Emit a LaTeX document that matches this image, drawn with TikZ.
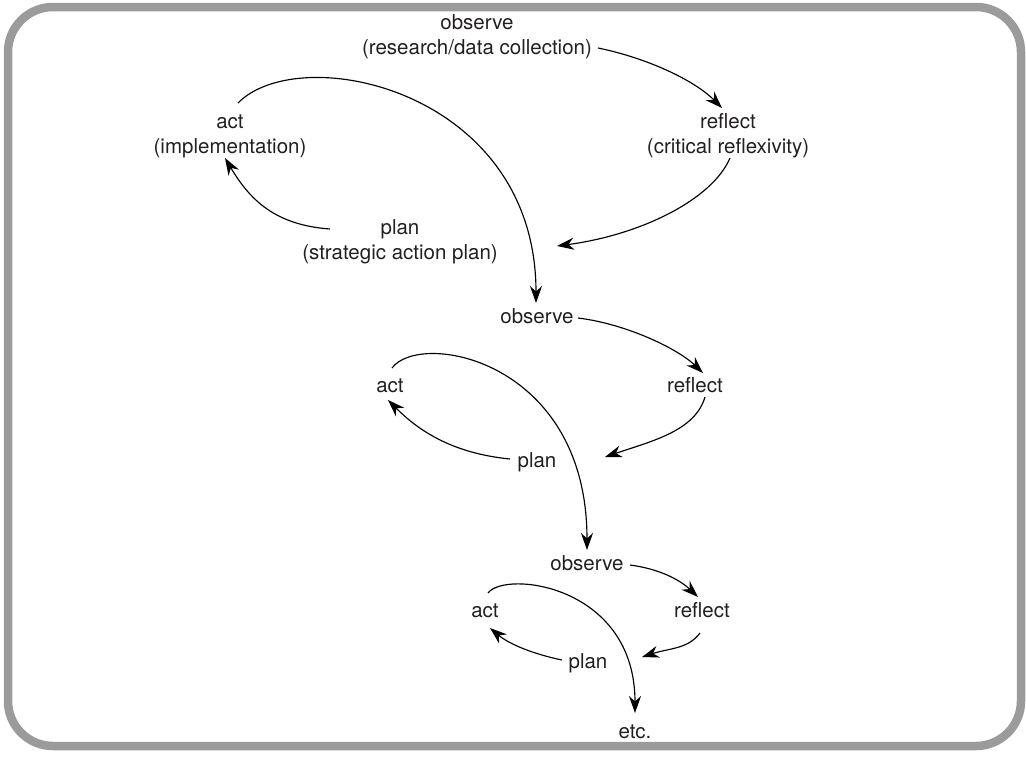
\documentclass[tikz,border=0pt]{standalone}
\usepackage{fontspec}
\setmainfont{TeX Gyre Heros}
\usetikzlibrary{arrows.meta,calc}
\definecolor{txt}{HTML}{231F20}
\definecolor{frame}{HTML}{9B9B9B}
\tikzset{
  lbl/.style={anchor=base, inner sep=2pt, text=txt, align=center,
    font=\fontsize{20.5}{24.7}\selectfont},
  cyc/.style={line width=1.15pt, draw=black,
    -{Stealth[length=17pt,width=12pt,inset=5.5pt]}},
}
\begin{document}
\begin{tikzpicture}[x=1pt,y=-1pt]
\useasboundingbox (0,0) rectangle (1026,758);
\draw[frame, line width=8.5pt, rounded corners=45pt] (8,7) rectangle (1021,746);

% cycle 1 (base = baseline of the last line)
\node[lbl] (obs1) at (477,54) {observe\\(research/data collection)};
\node[lbl] (act1) at (230,153) {act\\(implementation)};
\node[lbl] (ref1) at (728,153) {reflect\\(critical reflexivity)};
\node[lbl] (plan1) at (400,259) {plan\\(strategic action plan)};
\coordinate (r1end) at (557,246);

% cycle 2
\node[lbl] (obs2) at (537,323) {observe};
\node[lbl] (act2) at (390,392) {act};
\node[lbl] (ref2) at (695,392) {reflect};
\node[lbl] (plan2) at (537,467) {plan};
\coordinate (r2end) at (605,457);

% cycle 3
\node[lbl] (obs3) at (587,570) {observe};
\node[lbl] (act3) at (485,617) {act};
\node[lbl] (ref3) at (702,617) {reflect};
\node[lbl] (plan3) at (588,668) {plan};
\node[lbl] (etc) at (635,738) {etc.};
\coordinate (r3end) at (642,657);

% connectors cycle 1
\draw[cyc] ($(obs1.base)+(121,-6)$) .. controls (647,58) and (694,80) .. ($(ref1.base)+(-6,-45)$);
\draw[cyc] ($(ref1.base)+(2,5)$) .. controls (712,200) and (640,235) .. (r1end);
\draw[cyc] ($(act1.base)+(8,-50)$) .. controls (300,40) and (536,90) .. ($(obs2.base)+(-1,-20)$);
\draw[cyc] ($(plan1.base)+(-70,-30)$) .. controls (275,225) and (250,200) .. ($(act1.base)+(-5,5)$);

% connectors cycle 2
\draw[cyc] ($(obs2.base)+(41,-5)$) .. controls (627,324) and (678,349) .. ($(ref2.base)+(8,-19)$);
\draw[cyc] ($(ref2.base)+(10,5)$) .. controls (695,431) and (652,441) .. (r2end);
\draw[cyc] ($(act2.base)+(2,-24)$) .. controls (420,330) and (587,360) .. ($(obs3.base)+(0,-20)$);
\draw[cyc] ($(plan2.base)+(-27,-8)$) .. controls (449,453) and (416,428) .. ($(act2.base)+(-2,8)$);

% connectors cycle 3
\draw[cyc] ($(obs3.base)+(43,-5)$) .. controls (660,569) and (680,580) .. ($(ref3.base)+(-4,-20)$);
\draw[cyc] ($(ref3.base)+(-2,16)$) .. controls (688,649) and (670,648) .. (r3end);
\draw[cyc] ($(act3.base)+(3,-24)$) .. controls (505,570) and (635,585) .. ($(etc.base)+(0,-25)$);
\draw[cyc] ($(plan3.base)+(-26,-8)$) .. controls (533,654) and (509,644) .. ($(act3.base)+(5,11)$);
\end{tikzpicture}
\end{document}
